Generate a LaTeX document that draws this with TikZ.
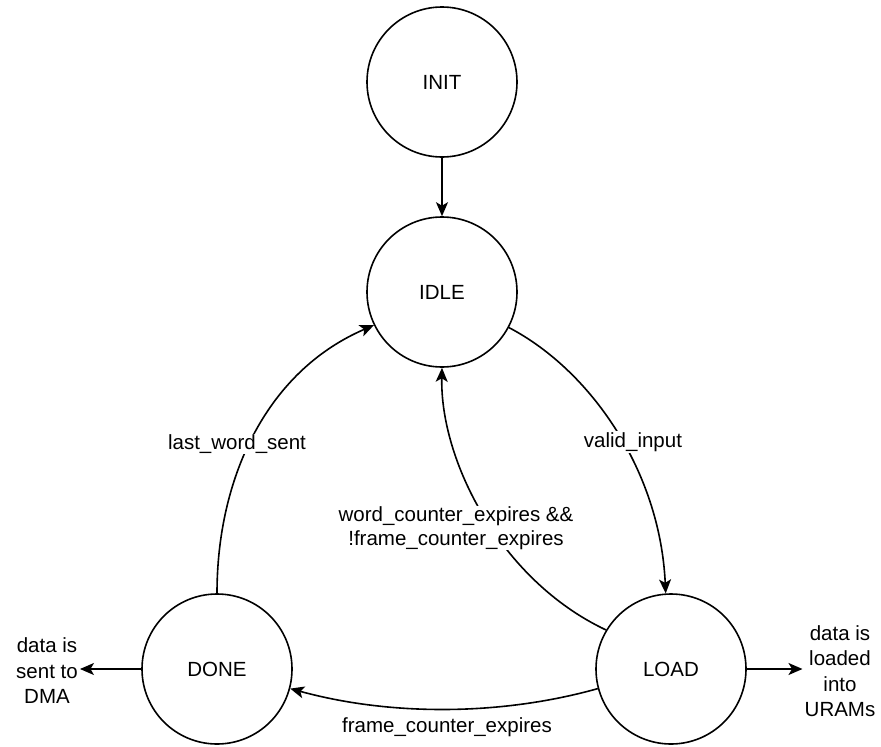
\documentclass[tikz,border=0pt]{standalone}
\usepackage{fontspec}
\setmainfont{Liberation Sans}
\usetikzlibrary{arrows.meta}
\begin{document}
\begin{tikzpicture}[x=1pt,y=-1pt,
  state/.style={circle,draw,line width=1.6pt,minimum size=150pt,inner sep=0pt,font=\fontsize{20.5}{24.6}\selectfont},
  lbl/.style={font=\fontsize{20.5}{23.5}\selectfont,fill=white,inner sep=1pt,align=center},
  note/.style={font=\fontsize{20.5}{25.5}\selectfont,align=center,inner sep=2pt},
  arr/.style={line width=1.6pt,-{Stealth[length=14pt,width=12pt,inset=3.5pt]}}]
\useasboundingbox (0,0) rectangle (881,747);
\node[state] (init) at (442,82) {INIT};
\node[state] (idle) at (442,292) {IDLE};
\node[state] (done) at (217,669) {DONE};
\node[state] (load) at (671,669) {LOAD};
\node[note] (dma) at (47,671) {data is\\sent to\\DMA};
\node[note] (uram) at (840,671) {data is\\loaded\\into\\URAMs};

\draw[arr] (init) -- (idle);
\draw[arr] (idle.-28) .. controls (590,370) and (660,470) .. (load.94);
\draw[arr] (load.149) .. controls (500,580) and (440,460) .. (idle.270);
\draw[arr] (load.195) .. controls (500,716) and (390,716) .. (done.-15);
\draw[arr] (done.90) .. controls (217,480) and (265,372) .. (idle.206);
\draw[arr] (done.west) -- (done.west -| dma.east);
\draw[arr] (load.east) -- (load.east -| uram.west);

\node[lbl] (lvalid) at (633,442) {valid\_input};
\node[lbl] (lword) at (456,528) {word\_counter\_expires \&\&\\!frame\_counter\_expires};
\node[lbl] (llast) at (237,444) {last\_word\_sent};
\node[font=\fontsize{20.5}{24.6}\selectfont] (lframe) at (447,727) {frame\_counter\_expires};
\end{tikzpicture}
\end{document}
